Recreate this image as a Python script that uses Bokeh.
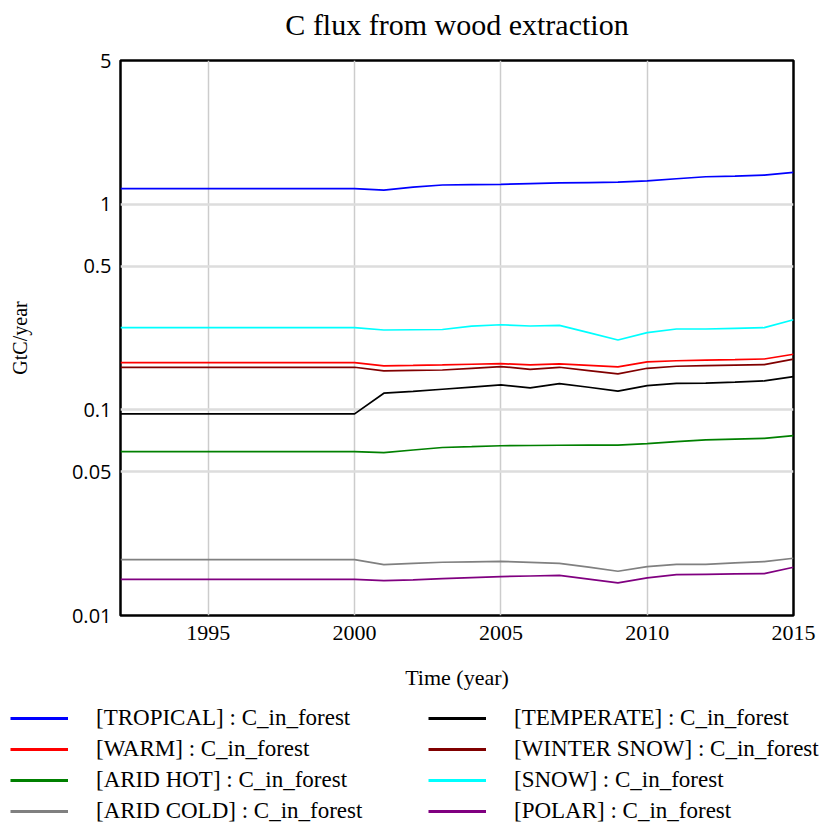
from bokeh.plotting import figure
from bokeh.layouts import column
from bokeh.models import (Range1d, FixedTicker, CustomJSTickFormatter, Legend, LegendItem)
from bokeh.embed import file_html
from bokeh.resources import INLINE

years = list(range(1992, 2016))

tropical = [1.19]*9 + [1.17, 1.21, 1.24, 1.245, 1.25, 1.26, 1.27, 1.275, 1.28, 1.30, 1.33, 1.36, 1.37, 1.385, 1.43]
temperate = [0.0956]*9 + [0.1205, 0.123, 0.126, 0.129, 0.1322, 0.1279, 0.1342, 0.1288, 0.1233, 0.1312, 0.1346, 0.1350, 0.1365, 0.1383, 0.1451]
warm = [0.1697]*9 + [0.1636, 0.1645, 0.1655, 0.1667, 0.1678, 0.1655, 0.1673, 0.1645, 0.1617, 0.1710, 0.1733, 0.1745, 0.1756, 0.1768, 0.1864]
winter_snow = [0.1611]*9 + [0.1546, 0.1555, 0.1563, 0.1593, 0.1624, 0.1575, 0.1611, 0.1553, 0.1495, 0.1593, 0.1630, 0.1640, 0.1650, 0.1660, 0.1765]
arid_hot = [0.0627]*9 + [0.0620, 0.0638, 0.0656, 0.0662, 0.0669, 0.0671, 0.0673, 0.0674, 0.0674, 0.0685, 0.0700, 0.0715, 0.0721, 0.0727, 0.0750]
snow = [0.251]*9 + [0.2445, 0.2452, 0.246, 0.2555, 0.2594, 0.2557, 0.2577, 0.2373, 0.2187, 0.2373, 0.2473, 0.2473, 0.2490, 0.2510, 0.2744]
arid_cold = [0.0187]*9 + [0.01769, 0.01792, 0.01815, 0.01824, 0.01832, 0.01813, 0.01794, 0.01718, 0.01641, 0.01730, 0.01774, 0.01774, 0.01801, 0.01829, 0.01898]
polar = [0.0150]*9 + [0.01479, 0.01490, 0.01512, 0.01529, 0.01546, 0.01556, 0.01566, 0.01503, 0.01440, 0.01523, 0.01580, 0.01586, 0.01592, 0.01597, 0.01716]

series = [
    ("[TROPICAL] : C_in_forest", tropical, "#0000ff"),
    ("[WARM] : C_in_forest", warm, "#ff0000"),
    ("[ARID HOT] : C_in_forest", arid_hot, "#008000"),
    ("[ARID COLD] : C_in_forest", arid_cold, "#808080"),
    ("[TEMPERATE] : C_in_forest", temperate, "#000000"),
    ("[WINTER SNOW] : C_in_forest", winter_snow, "#800000"),
    ("[SNOW] : C_in_forest", snow, "#00ffff"),
    ("[POLAR] : C_in_forest", polar, "#800080"),
]

x_ticks = [1995, 2000, 2005, 2010, 2015]
y_ticks = [0.01, 0.05, 0.1, 0.5, 1, 5]


def no_align(fig):
    try:
        fig.frame_align = False
    except Exception:
        pass


# title strip
tf = figure(width=819, height=45, x_range=Range1d(0, 1), y_range=Range1d(0, 1),
            output_backend="svg", toolbar_location=None,
            x_axis_location=None, y_axis_location=None,
            title="C flux from wood extraction",
            min_border_left=120, min_border_right=26, min_border_top=0,
            min_border_bottom=0)
tf.outline_line_color = None
tf.xgrid.visible = False
tf.ygrid.visible = False
tf.title.align = "center"
tf.title.text_font = "Liberation Serif"
tf.title.text_font_size = "30px"
tf.title.text_font_style = "normal"
tf.title.text_color = "#000000"
tf.title.offset = 0
tf.title.standoff = 10
no_align(tf)

p = figure(width=819, height=647, y_axis_type="log",
           x_range=Range1d(1992, 2015), y_range=Range1d(0.01, 5),
           output_backend="svg", toolbar_location=None,
           min_border_left=120, min_border_right=26, min_border_top=15,
           min_border_bottom=77)
no_align(p)

p.outline_line_color = "#000000"
p.outline_line_width = 2.5
p.outline_line_alpha = 1

p.xaxis.ticker = FixedTicker(ticks=x_ticks)
p.yaxis.ticker = FixedTicker(ticks=y_ticks)
p.yaxis.formatter = CustomJSTickFormatter(code="return tick.toString();")

for ax in (p.xaxis, p.yaxis):
    ax.axis_line_color = None
    ax.major_tick_line_color = None
    ax.minor_tick_line_color = None
    ax.major_tick_out = 0
    ax.major_tick_in = 0
    ax.minor_tick_out = 0
    ax.minor_tick_in = 0
    ax.major_label_text_color = "#000000"
    ax.axis_label_text_color = "#000000"
    ax.axis_label_text_font_style = "normal"

p.xaxis.major_label_text_font = "Liberation Serif"
p.xaxis.major_label_text_font_size = "22px"
p.xaxis.major_label_standoff = 10
p.xaxis.axis_label = "Time (year)"
p.xaxis.axis_label_text_font = "Liberation Serif"
p.xaxis.axis_label_text_font_size = "22px"
p.xaxis.axis_label_standoff = 22

p.yaxis.major_label_text_font = "Open Sans"
p.yaxis.major_label_text_font_size = "20px"
p.yaxis.major_label_standoff = 9
p.yaxis.axis_label = "GtC/year"
p.yaxis.axis_label_text_font = "Liberation Serif"
p.yaxis.axis_label_text_font_size = "20px"
p.yaxis.axis_label_standoff = 38

p.xgrid.grid_line_color = "#cccccc"
p.xgrid.grid_line_width = 1.5
p.ygrid.grid_line_color = "#dddddd"
p.ygrid.grid_line_width = 2.5
p.ygrid.minor_grid_line_color = None

for name, vals, color in series:
    p.line(years, vals, line_color=color, line_width=1.7)

# legend strip below the chart
lf = figure(width=819, height=133, x_range=Range1d(0, 1), y_range=Range1d(0, 1),
            output_backend="svg", toolbar_location=None,
            x_axis_location=None, y_axis_location=None, min_border=0)
lf.outline_line_color = None
lf.xgrid.visible = False
lf.ygrid.visible = False
no_align(lf)

items = []
for name, vals, color in series:
    r = lf.line(years, vals, line_color=color, line_width=3)
    items.append(LegendItem(label=name, renderers=[r]))

legend = Legend(items=items, location=(10, 1), ncols=2,
                orientation="vertical",
                label_text_font="Liberation Serif", label_text_font_size="23px",
                label_text_color="#000000",
                glyph_width=58, glyph_height=26, label_height=26,
                label_standoff=28, spacing=5, padding=0, margin=0,
                label_width=327,
                border_line_color=None, background_fill_alpha=0)
legend.item_background_fill_alpha = 0
lf.add_layout(legend)

open("out.html", "w").write(file_html(column(tf, p, lf, spacing=0), INLINE))
